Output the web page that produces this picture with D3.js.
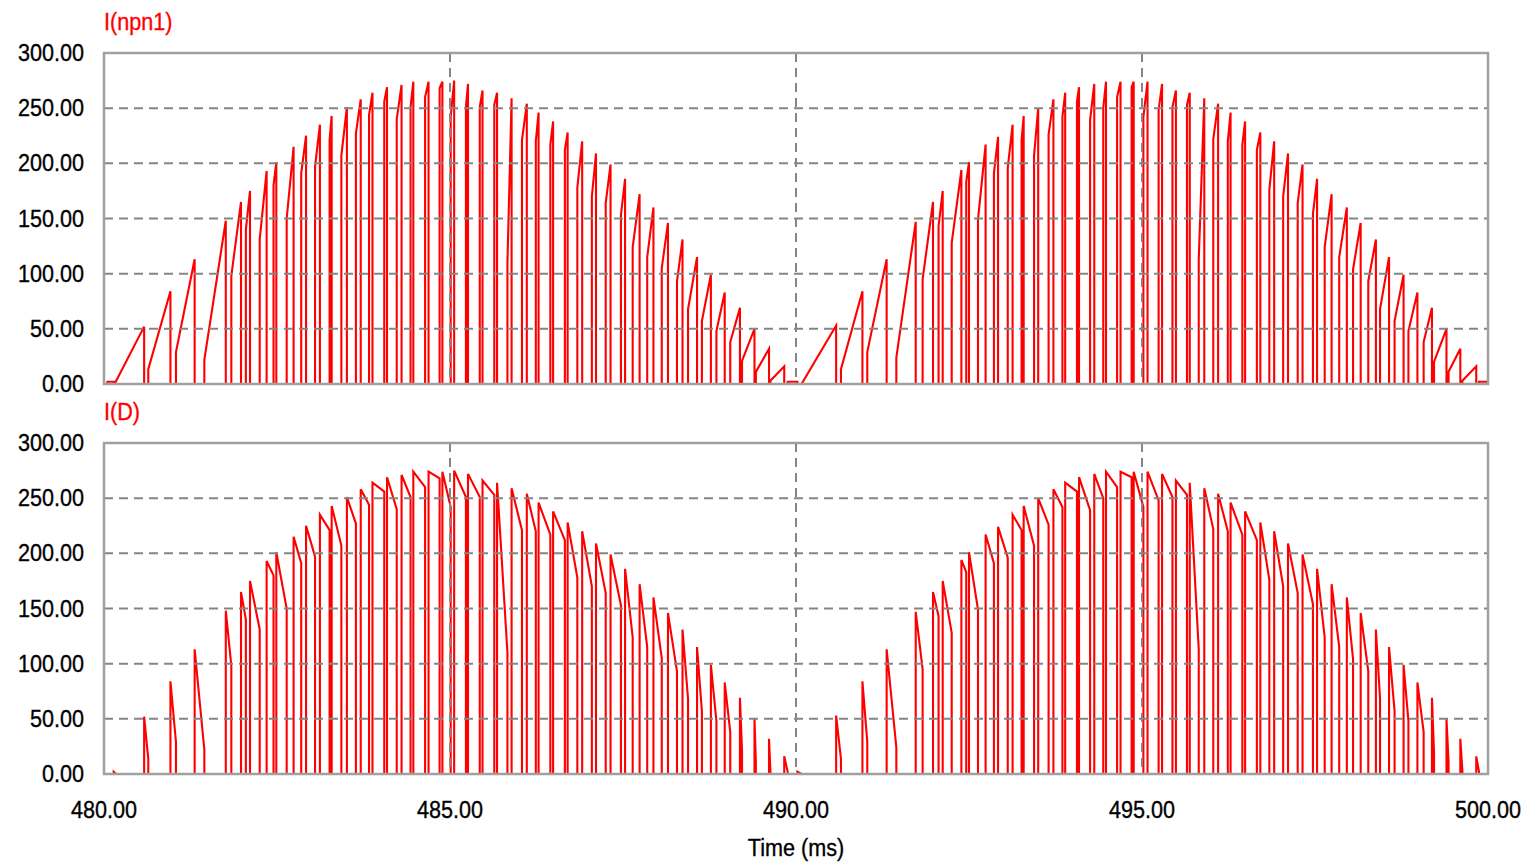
<!DOCTYPE html>
<html>
<head>
<meta charset="utf-8">
<script src="https://cdn.jsdelivr.net/npm/d3@7"></script>
<style>
  body { margin: 0; background: #fff; }
  svg { display: block; }
</style>
</head>
<body>
<svg id="chart" width="1525" height="864"></svg>
<script>
"use strict";

// Time axis and value axis ticks
const xTicks = [480, 485, 490, 495, 500];
const yTicks = [0, 50, 100, 150, 200, 250, 300];
const panelTitles = ["I(npn1)", "I(D)"];

// Switching events, first half cycle (ms / A): switch on at tOn with iOn,
// ramps to iPk at tOff, then the diode takes the current.
const tOnA  = [480.05, 480.16, 480.64, 481.04, 481.45, 481.84, 482.05, 482.25, 482.45, 482.64, 482.85,
               483.05, 483.26, 483.43, 483.64, 483.83, 484.05, 484.23, 484.43, 484.64, 484.85, 485.01,
               485.23, 485.43, 485.64, 485.83, 486.04, 486.24, 486.45, 486.66, 486.84, 487.05, 487.25,
               487.47, 487.64, 487.85, 488.06, 488.28, 488.44, 488.64, 488.85, 489.05, 489.22, 489.42,
               489.63, 489.88];
const iOnA  = [2, 1, 13.5, 29, 22, 98, 140, 131, 180, 150, 191,
               197, 221, 207, 227, 244, 256, 240, 251, 260, 268, 242,
               251, 251, 253, 110, 221, 220, 217, 212, 178, 170, 164,
               153, 124, 115, 105, 93, 68, 57, 48, 38, 21, 11,
               3, 2];
const tOffA = [480.14, 480.58, 480.96, 481.31, 481.76, 481.98, 482.11, 482.35, 482.49, 482.74, 482.92,
               483.12, 483.29, 483.51, 483.71, 483.88, 484.09, 484.30, 484.47, 484.69, 484.89, 485.06,
               485.26, 485.47, 485.68, 485.89, 486.11, 486.28, 486.49, 486.70, 486.91, 487.11, 487.32,
               487.53, 487.74, 487.94, 488.15, 488.36, 488.57, 488.77, 488.97, 489.19, 489.40, 489.61,
               489.83, 490.02];
const iPkA  = [2, 52, 84, 113, 148, 165, 175, 193, 201, 215, 225,
               235, 243, 251, 258, 264, 269, 271, 274, 274, 274, 275,
               272, 266, 264, 259, 254, 246, 238, 228, 220, 209, 199,
               186, 172, 160, 146, 131, 115, 99, 83, 69, 50, 32,
               16, 2];

// Second half cycle
const tOnB  = [490.08, 490.65, 491.03, 491.45, 491.83, 492.06, 492.25, 492.46, 492.63, 492.86,
               493.06, 493.26, 493.44, 493.65, 493.85, 494.06, 494.25, 494.44, 494.64, 494.85, 495.02,
               495.24, 495.44, 495.65, 495.82, 496.03, 496.24, 496.45, 496.66, 496.84, 497.04, 497.25,
               497.47, 497.64, 497.85, 498.05, 498.27, 498.44, 498.65, 498.85, 499.07, 499.22, 499.43,
               499.63, 499.87];
const iOnB  = [0, 13.5, 29, 24, 95, 143, 128, 183, 149, 191,
               196, 221, 207, 226, 242, 256, 239, 250, 260, 269, 242,
               248, 251, 253, 113, 222, 220, 217, 212, 176, 170, 164,
               154, 124, 115, 104, 93, 68, 57, 48, 38, 20, 11,
               3, 2];
const tOffB = [490.58, 490.96, 491.31, 491.73, 491.98, 492.12, 492.39, 492.50, 492.74, 492.92,
               493.13, 493.29, 493.50, 493.72, 493.89, 494.09, 494.31, 494.48, 494.69, 494.88, 495.08,
               495.29, 495.49, 495.69, 495.90, 496.10, 496.28, 496.49, 496.71, 496.91, 497.11, 497.32,
               497.53, 497.74, 497.96, 498.16, 498.38, 498.57, 498.78, 498.98, 499.19, 499.40, 499.60,
               499.83, 499.99];
const iPkB  = [53, 84, 113, 147, 165, 175, 194, 201, 217, 224,
               235, 243, 250, 258, 264, 269, 272, 274, 274, 274, 274,
               272, 266, 264, 259, 254, 246, 238, 228, 220, 209, 199,
               186, 172, 160, 146, 131, 115, 99, 83, 69, 50, 32,
               16, 2];

const W = 1525, H = 864;
const plotLeft = 104, plotRight = 1488;
const panels = [{ top: 53, bottom: 384 }, { top: 443, bottom: 774 }];

const pulses = tOnA.map((t, i) => ({ tOn: t, iOn: iOnA[i], tOff: tOffA[i], iPk: iPkA[i] }))
  .concat(tOnB.map((t, i) => ({ tOn: t, iOn: iOnB[i], tOff: tOffB[i], iPk: iPkB[i] })));

// switch current: 0 -> iOn at tOn, ramp to iPk, back to 0 at tOff
function switchPoints(p) {
  const pts = [[480, 0]];
  p.forEach(d => pts.push([d.tOn, 0], [d.tOn, d.iOn], [d.tOff, d.iPk], [d.tOff, 0]));
  pts.push([500, 0]);
  return pts;
}

// diode current: picks up iPk at tOff, falls until the switch turns on again
function diodePoints(p) {
  const pts = [[480, 0]];
  p.forEach((d, i) => {
    const n = p[i + 1];
    if (!n) return;
    pts.push([d.tOff, 0], [d.tOff, d.iPk], [n.tOn, n.iOn], [n.tOn, 0]);
  });
  pts.push([500, 0]);
  return pts;
}

const svg = d3.select("#chart");
svg.append("rect").attr("width", W).attr("height", H).attr("fill", "#fff");

const x = d3.scaleLinear().domain([480, 500]).range([plotLeft, plotRight]);
const font = "'Liberation Sans', Arial, sans-serif";

function label(g, tx, ty, txt, anchor, color) {
  g.append("text")
    .attr("transform", `translate(${tx},${ty}) scale(0.9,1)`)
    .attr("text-anchor", anchor)
    .attr("font-family", font)
    .attr("font-size", 24)
    .attr("fill", color)
    .attr("stroke", color)
    .attr("stroke-width", 0.35)
    .text(txt);
}

const series = [switchPoints(pulses), diodePoints(pulses)];

panels.forEach((pn, k) => {
  const y = d3.scaleLinear().domain([0, 300]).range([pn.bottom, pn.top]);
  const g = svg.append("g");

  g.append("clipPath").attr("id", "clip" + k)
    .append("rect")
      .attr("x", plotLeft).attr("y", pn.top)
      .attr("width", plotRight - plotLeft).attr("height", pn.bottom - pn.top);

  g.append("path")
    .datum(series[k])
    .attr("clip-path", `url(#clip${k})`)
    .attr("fill", "none")
    .attr("stroke", "#ff0000")
    .attr("stroke-width", 2.1)
    .attr("stroke-linejoin", "miter")
    .attr("d", d3.line().x(d => x(d[0])).y(d => y(d[1])));

  // grid
  g.append("g")
      .attr("stroke", "#858585")
      .attr("stroke-width", 2)
      .attr("stroke-dasharray", "9,6")
    .selectAll("line")
    .data(yTicks.filter(v => v > 0 && v < 300))
    .join("line")
      .attr("x1", plotLeft).attr("x2", plotRight)
      .attr("y1", d => y(d)).attr("y2", d => y(d));

  g.append("g")
      .attr("stroke", "#858585")
      .attr("stroke-width", 2)
      .attr("stroke-dasharray", "9,6")
    .selectAll("line")
    .data(xTicks.filter(v => v > 480 && v < 500))
    .join("line")
      .attr("x1", d => x(d)).attr("x2", d => x(d))
      .attr("y1", pn.top).attr("y2", pn.bottom);

  // frame
  g.append("rect")
    .attr("x", plotLeft).attr("y", pn.top)
    .attr("width", plotRight - plotLeft).attr("height", pn.bottom - pn.top)
    .attr("fill", "none")
    .attr("stroke", "#a0a0a0")
    .attr("stroke-width", 2.5);

  yTicks.forEach(v => label(g, 84, y(v) + 8, d3.format(".2f")(v), "end", "#000"));

  label(g, plotLeft, pn.top - 23, panelTitles[k], "start", "#ff0000");
});

const xl = svg.append("g");
xTicks.forEach(v => label(xl, x(v), 818, d3.format(".2f")(v), "middle", "#000"));
label(xl, x(490), 856, "Time (ms)", "middle", "#000");
</script>
</body>
</html>
